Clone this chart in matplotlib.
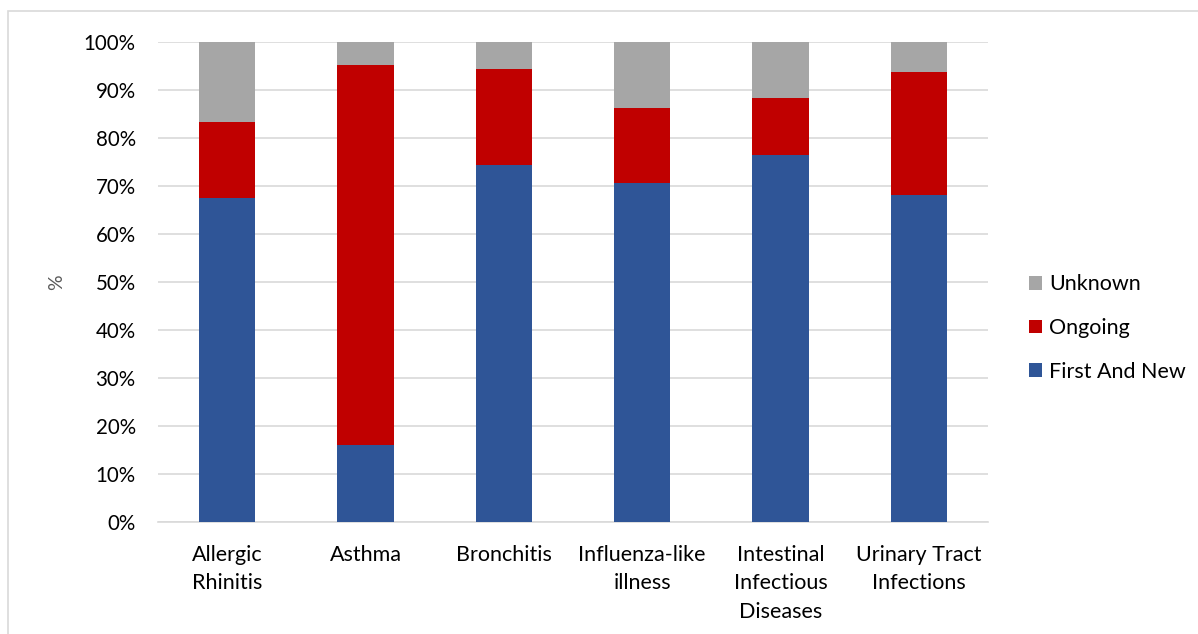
import matplotlib.pyplot as plt
from matplotlib.patches import Rectangle
from matplotlib.ticker import FuncFormatter
import numpy as np

plt.rcParams["font.family"] = ["Lato", "DejaVu Sans"]

categories = [
    "Allergic\nRhinitis",
    "Asthma",
    "Bronchitis",
    "Influenza-like\nillness",
    "Intestinal\nInfectious\nDiseases",
    "Urinary Tract\nInfections",
]
first_and_new = [67.6, 16.0, 74.3, 70.7, 76.4, 68.2]
ongoing = [15.8, 79.3, 20.1, 15.6, 12.0, 25.6]
unknown = [16.6, 4.7, 5.6, 13.7, 11.6, 6.2]

series = [
    ("First And New", first_and_new, "#2F5597"),
    ("Ongoing", ongoing, "#C00000"),
    ("Unknown", unknown, "#A6A6A6"),
]

fig = plt.figure(figsize=(11.98, 6.34), dpi=100)
# light frame of the chart area
fig.patches.append(Rectangle((8 / 1198, -0.01), 1.0, 1 - 11 / 634 + 0.01,
                             transform=fig.transFigure, fill=False,
                             edgecolor="#D9D9D9", linewidth=1.2))
ax = fig.add_axes([158 / 1198, 1 - 522 / 634, 830 / 1198, 480 / 634])

x = np.arange(len(categories))
bottom = np.zeros(len(categories))
handles = []
for name, vals, color in series:
    b = ax.bar(x, vals, 0.405, bottom=bottom, color=color, label=name, zorder=3)
    handles.append(b)
    bottom += np.array(vals)

ax.set_xlim(-0.5, len(categories) - 0.5)
ax.set_ylim(0, 100)
ax.set_yticks(np.arange(0, 101, 10))
ax.yaxis.set_major_formatter(FuncFormatter(lambda v, p: f"{v:.0f}%"))
ax.set_xticks(x)
ax.set_xticklabels(categories, fontsize=15.5, linespacing=1.53, va="top")
ax.tick_params(axis="y", labelsize=14.8, length=0, pad=16)
ax.tick_params(axis="x", length=0, pad=16.5)
ax.grid(axis="y", color="#D9D9D9", linewidth=1.2, zorder=0)
for s in ["top", "right", "left"]:
    ax.spines[s].set_visible(False)
ax.spines["bottom"].set_color("#D9D9D9")
ax.spines["bottom"].set_linewidth(1.2)

fig.text(57 / 1198, 1 - 282 / 634, "%", rotation=90, fontsize=14,
         color="#595959", ha="center", va="center")

leg = fig.legend(handles[::-1], [s[0] for s in series][::-1],
                 loc="center left", bbox_to_anchor=(1010 / 1198, 1 - 328 / 634),
                 frameon=False, fontsize=15.5, handlelength=0.6, handleheight=0.6,
                 handletextpad=0.33, labelspacing=1.1)

fig.savefig("out.png", dpi=100)
